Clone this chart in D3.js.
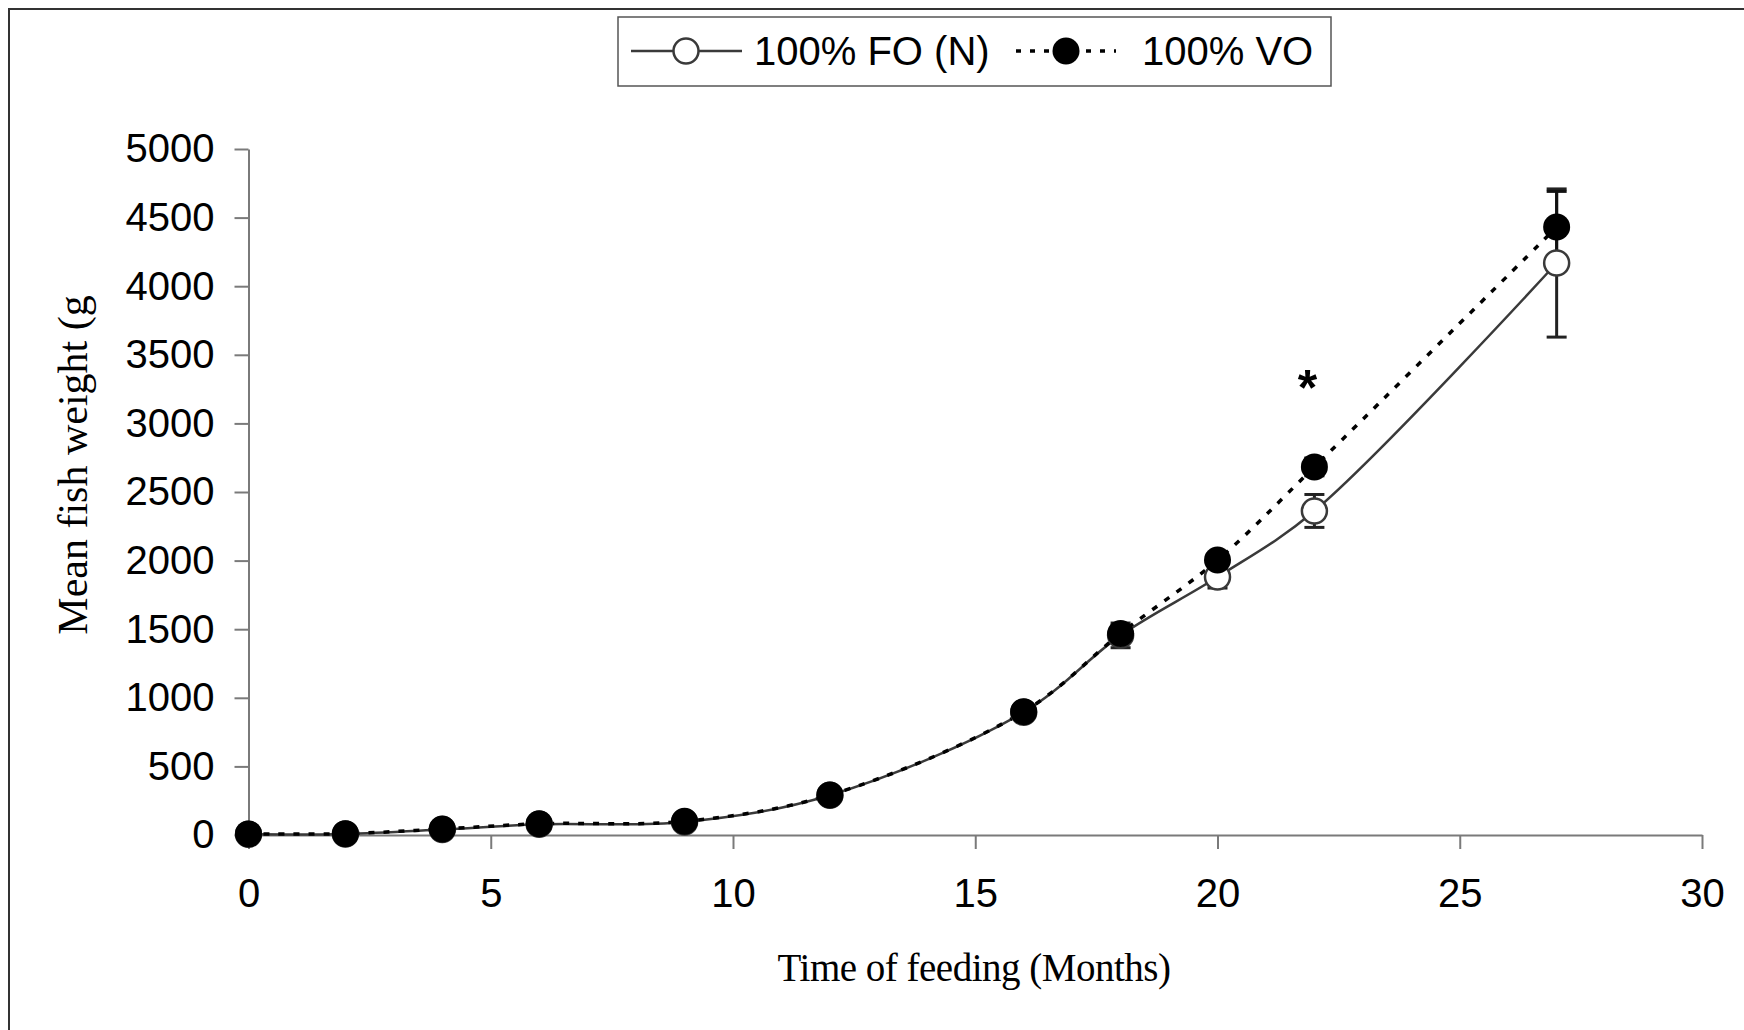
<!DOCTYPE html>
<html>
<head>
<meta charset="utf-8">
<script src="https://cdn.jsdelivr.net/npm/d3@7"></script>
<style>
  html, body { margin: 0; padding: 0; background: #fff; }
  svg { display: block; }
</style>
</head>
<body>
<svg id="chart" width="1744" height="1030"></svg>
<script>
// ---- data ----
const months = [0, 2, 4, 6, 9, 12, 16, 18, 20, 22, 27];
const foValues = [5, 8, 40, 78, 95, 290, 895, 1455, 1880, 2362, 4169];
const voValues = [8, 10, 44, 82, 100, 292, 899, 1469, 2004, 2683, 4431];
const foSD = [2, 3, 8, 10, 12, 25, 40, 90, 80, 120, 540];
const voSD = [2, 3, 8, 10, 12, 25, 40, 60, 50, 65, 260];
const seriesNames = ["100% FO (N)", "100% VO"];
const xTicks = [0, 5, 10, 15, 20, 25, 30];
const yTicks = [0, 500, 1000, 1500, 2000, 2500, 3000, 3500, 4000, 4500, 5000];
const sigMonths = [22];
const xTitle = "Time of feeding (Months)";
const yTitle = "Mean fish weight (g";

// ---- layout ----
const svg = d3.select("#chart");
const sans = "'Liberation Sans', Arial, sans-serif";
const serif = "'Liberation Serif', 'Times New Roman', serif";

const x = d3.scaleLinear().domain([0, 30]).range([248.5, 1702]);
const y = d3.scaleLinear().domain([0, 5000]).range([835, 149]);

// outer frame (cropped at right/bottom)
svg.append("path")
  .attr("d", "M9,1100 L9,9 L1800,9")
  .attr("fill", "none").attr("stroke", "#333").attr("stroke-width", 2);

// axes
const yAxis = d3.axisLeft(y).tickValues(yTicks).tickFormat(d3.format("d"))
  .tickSize(14).tickPadding(20).tickSizeOuter(0);
const xAxis = d3.axisBottom(x).tickValues(xTicks).tickFormat(d3.format("d"))
  .tickSize(14).tickPadding(30).tickSizeOuter(0);

const gy = svg.append("g").attr("transform", `translate(${x(0)},0)`).call(yAxis);
const gx = svg.append("g").attr("transform", `translate(0,${y(0)})`).call(xAxis);
[gx, gy].forEach(g => {
  g.select(".domain").attr("stroke", "#7a7a7a").attr("stroke-width", 2);
  g.selectAll(".tick line").attr("stroke", "#7a7a7a").attr("stroke-width", 2);
  g.selectAll(".tick text").attr("fill", "#000").style("font-family", sans).style("font-size", "40px");
});

// axis titles
svg.append("text")
  .attr("x", 974).attr("y", 981)
  .attr("text-anchor", "middle")
  .style("font-family", serif).style("font-size", "39px")
  .style("letter-spacing", "-0.5px")
  .text(xTitle);

svg.append("text")
  .attr("transform", "translate(87,465) rotate(-90)")
  .attr("text-anchor", "middle")
  .style("font-family", serif).style("font-size", "42px")
  .text(yTitle);

// data
const foData = months.map((m, i) => ({ m, v: foValues[i], sd: foSD[i] }));
const voData = months.map((m, i) => ({ m, v: voValues[i], sd: voSD[i] }));

const line = d3.line().x(d => x(d.m)).y(d => y(d.v)).curve(d3.curveCatmullRom.alpha(0.5));

// error bars
function errorBars(data, color, width) {
  const g = svg.append("g").attr("stroke", color).attr("stroke-width", width).attr("fill", "none");
  data.forEach(d => {
    const cx = x(d.m), cw = 10;
    g.append("line").attr("x1", cx).attr("x2", cx).attr("y1", y(d.v + d.sd)).attr("y2", y(d.v - d.sd));
    g.append("line").attr("x1", cx - cw).attr("x2", cx + cw).attr("y1", y(d.v + d.sd)).attr("y2", y(d.v + d.sd));
    g.append("line").attr("x1", cx - cw).attr("x2", cx + cw).attr("y1", y(d.v - d.sd)).attr("y2", y(d.v - d.sd));
  });
}
errorBars(foData, "#222", 3);
errorBars(voData, "#111", 3);

// lines
svg.append("path").datum(foData).attr("d", line)
  .attr("fill", "none").attr("stroke", "#3a3a3a").attr("stroke-width", 2.5);
svg.append("path").datum(voData).attr("d", line)
  .attr("fill", "none").attr("stroke", "#000").attr("stroke-width", 3.5)
  .attr("stroke-dasharray", "6,9");

// markers
svg.append("g").selectAll("circle").data(foData).join("circle")
  .attr("cx", d => x(d.m)).attr("cy", d => y(d.v)).attr("r", 12.5)
  .attr("fill", "#fff").attr("stroke", "#3a3a3a").attr("stroke-width", 2.5);
svg.append("g").selectAll("circle").data(voData).join("circle")
  .attr("cx", d => x(d.m)).attr("cy", d => y(d.v)).attr("r", 13.5)
  .attr("fill", "#000");

// significance asterisk
svg.append("g").selectAll("text").data(sigMonths).join("text")
  .attr("x", d => x(d) - 7)
  .attr("y", d => y(voValues[months.indexOf(d)]) - 62)
  .attr("text-anchor", "middle")
  .style("font-family", sans).style("font-size", "50px").style("font-weight", "bold")
  .text("*");

// legend
const lg = svg.append("g");
lg.append("rect").attr("x", 618).attr("y", 17).attr("width", 713).attr("height", 69)
  .attr("fill", "#fff").attr("stroke", "#555").attr("stroke-width", 1.5);
const ly = 51;
lg.append("line").attr("x1", 631).attr("x2", 742).attr("y1", ly).attr("y2", ly)
  .attr("stroke", "#3a3a3a").attr("stroke-width", 2.5);
lg.append("circle").attr("cx", 686).attr("cy", ly).attr("r", 12.5)
  .attr("fill", "#fff").attr("stroke", "#3a3a3a").attr("stroke-width", 2.5);
lg.append("text").attr("x", 754).attr("y", ly + 14)
  .style("font-family", sans).style("font-size", "40px").text(seriesNames[0]);
lg.append("line").attr("x1", 1016).attr("x2", 1116).attr("y1", ly).attr("y2", ly)
  .attr("stroke", "#000").attr("stroke-width", 3.5).attr("stroke-dasharray", "5,9");
lg.append("circle").attr("cx", 1066).attr("cy", ly).attr("r", 13.5).attr("fill", "#000");
lg.append("text").attr("x", 1142).attr("y", ly + 14)
  .style("font-family", sans).style("font-size", "40px").text(seriesNames[1]);
</script>
</body>
</html>
